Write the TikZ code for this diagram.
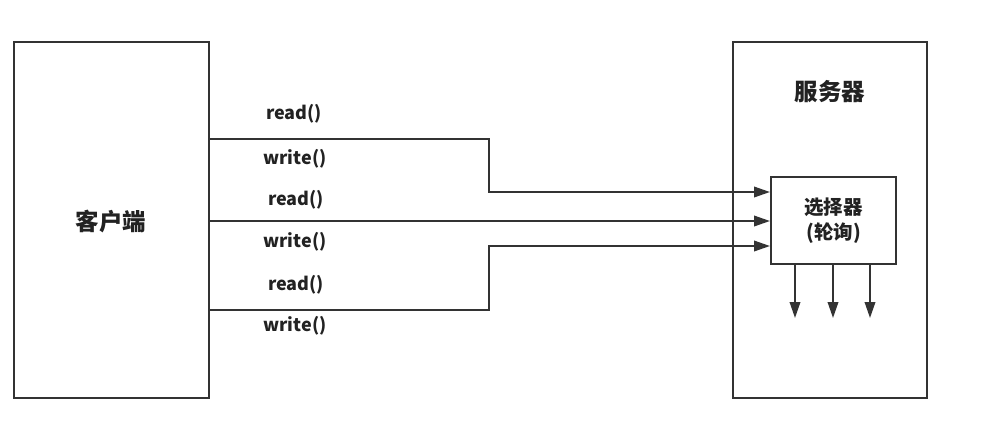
\documentclass[tikz,border=0pt]{standalone}
\usepackage{fontspec}
\setmainfont{Noto Sans CJK SC}
\usetikzlibrary{arrows.meta,calc}
\definecolor{ink}{HTML}{333333}
\definecolor{txt}{HTML}{222222}
\tikzset{
  box/.style={draw=ink, line width=2pt, rectangle, inner sep=0pt},
  conn/.style={draw=ink, line width=2pt},
  tip/.style={-{Triangle[length=16pt,width=10.5pt]}},
  lbl/.style={text=txt, font=\bfseries\fontsize{18}{20}\selectfont, inner sep=0pt},
  title/.style={text=txt, font=\bfseries\fontsize{23.5}{26}\selectfont, inner sep=0pt},
}
\begin{document}
\begin{tikzpicture}[x=1pt,y=-1pt]
\useasboundingbox[fill=white] (0,0) rectangle (982,421);
\node[box, minimum width=195pt, minimum height=356pt] (client) at (111.5,220) {};
\node[title] (clientlbl) at (111,222) {客户端};
\node[box, minimum width=194pt, minimum height=356pt] (server) at (830,220) {};
\node[title] (serverlbl) at (830,92) {服务器};
\node[box, minimum width=125pt, minimum height=87pt, align=center, text=txt,
      font=\bfseries\fontsize{19.5}{25}\selectfont] (sel) at (833.5,220.5) {选择器\\(轮询)};
% helper coordinates
\coordinate (y1) at (0,139);
\coordinate (k1) at (489,192);
\coordinate (y2) at (0,221);
\coordinate (y3) at (0,310);
\coordinate (k3) at (489,246);
\draw[conn,tip] (client.east |- y1) -| (k1) -- (sel.west |- k1);
\draw[conn,tip] (client.east |- y2) -- (sel.west |- y2);
\draw[conn,tip] (client.east |- y3) -| (k3) -- (sel.west |- k3);
\coordinate (d1) at (795,318);
\coordinate (d2) at (833,318);
\coordinate (d3) at (870,318);
\draw[conn,tip] (sel.south -| d1) -- (d1);
\draw[conn,tip] (sel.south -| d2) -- (d2);
\draw[conn,tip] (sel.south -| d3) -- (d3);
% labels
\node[lbl] (r1) at (294,114) {read()};
\node[lbl] (w1) at (295,159) {write()};
\node[lbl] (r2) at (296,200) {read()};
\node[lbl] (w2) at (295,242) {write()};
\node[lbl] (r3) at (296,285) {read()};
\node[lbl] (w3) at (295,326) {write()};
\end{tikzpicture}
\end{document}
